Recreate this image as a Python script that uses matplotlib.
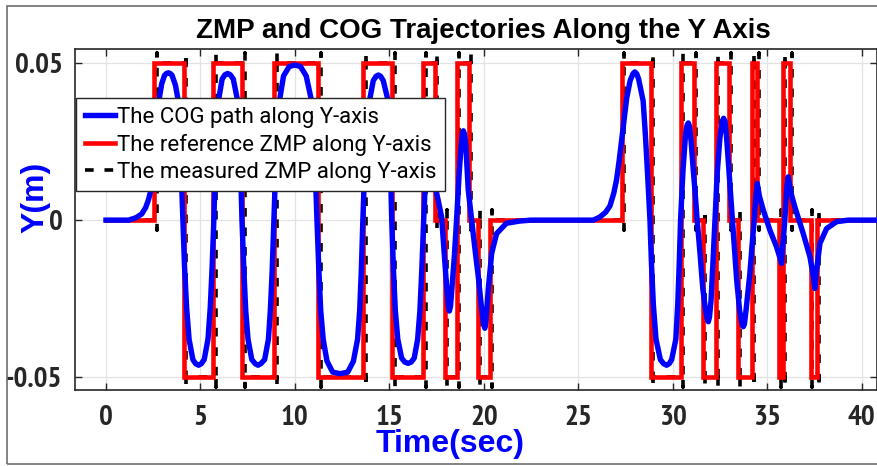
import matplotlib
matplotlib.use('Agg')
import matplotlib.pyplot as plt
from matplotlib.patches import Rectangle
from matplotlib import font_manager

_avail = {f.name for f in font_manager.fontManager.ttflist}
def pick(names):
    for n in names:
        if n in _avail:
            return n
    return 'DejaVu Sans'

NARROW = pick(['Liberation Sans Narrow', 'Arial Narrow', 'PT Sans Narrow', 'Roboto Condensed',
               'Archivo Narrow', 'Fira Sans Condensed', 'Barlow Condensed', 'DejaVu Sans'])
SANS = pick(['Liberation Sans', 'Arimo', 'Arial', 'DejaVu Sans'])
LEGF = pick(['Roboto', 'Liberation Sans', 'DejaVu Sans'])

# ---------------- data ----------------
title = 'ZMP and COG Trajectories Along the Y Axis'
xlabel = 'Time(sec)'
ylabel = 'Y(m)'
labels = ['The COG path along Y-axis', 'The reference ZMP along Y-axis',
          'The measured ZMP along Y-axis']
xticks = [0, 5, 10, 15, 20, 25, 30, 35, 40]
yticks = [-0.05, 0, 0.05]
yticklabels = ['-0.05', '0', '0.05']

# reference ZMP: switch times and level held from that time
ref_t = [0.0, 2.56, 4.14, 5.68, 7.22, 8.91, 11.24, 13.62, 15.16, 16.8, 17.42, 17.95,
         18.56, 19.23, 19.71, 20.33, 27.3, 28.83, 30.42, 31.15, 31.59, 32.29, 33.0,
         33.47, 34.2, 34.49, 35.64, 35.86, 36.2, 37.3, 37.62]
ref_y = [0, .05, -.05, .05, -.05, .05, -.05, .05, -.05, .05, 0, -.05,
         .05, 0, -.05, 0, .05, -.05, .05, 0, -.05, .05, 0,
         -.05, .05, 0, -.05, .05, 0, -.05, 0]
t_end = 41.0

# measured ZMP: switch times (slightly delayed) and overshoot at each switch
meas_t = [0.0, 2.68, 4.26, 5.8, 7.34, 9.03, 11.36, 13.74, 15.28, 16.92, 17.52, 18.06,
          18.68, 19.33, 19.81, 20.45, 27.42, 28.95, 30.54, 31.26, 31.7, 32.41, 33.1,
          33.58, 34.32, 34.58, 35.74, 35.97, 36.3, 37.4, 37.73]
meas_y = ref_y
meas_overshoot = 0.0033

# COG path
cog_t = [0.0, 1.2, 1.6, 1.9, 2.1, 2.25, 2.38, 2.5, 2.62, 2.72, 2.8, 2.95, 3.1, 3.2, 3.3, 3.4, 3.5, 3.68, 3.83, 3.92, 4.0, 4.07,
         4.16, 4.27, 4.4, 4.6, 4.75, 4.9, 5.05, 5.2, 5.4, 5.52, 5.62, 5.71,
         5.8, 5.9, 5.98, 6.15, 6.3, 6.44, 6.58, 6.74, 6.94, 7.03, 7.12, 7.2,
         7.3, 7.4, 7.52, 7.72, 7.9, 8.05, 8.2, 8.4, 8.6, 8.7, 8.8, 8.89,
         8.98, 9.07, 9.21, 9.4, 9.7, 10.0, 10.3, 10.6, 10.85, 10.98, 11.08, 11.17,
         11.27, 11.37, 11.5, 11.7, 12.0, 12.4, 12.8, 13.1, 13.32, 13.43, 13.52, 13.6,
         13.68, 13.8, 13.98, 14.15, 14.3, 14.42, 14.54, 14.68, 14.9, 14.99, 15.06, 15.13,
         15.22, 15.32, 15.45, 15.65, 15.82, 16.0, 16.16, 16.32, 16.5, 16.62, 16.72, 16.82,
         16.9, 17.0, 17.1, 17.2, 17.3, 17.42, 17.6, 17.77, 17.9, 18.02, 18.12, 18.18, 18.24, 18.3, 18.45, 18.56,
         18.7, 18.8, 18.86, 18.92, 18.98, 19.05, 19.18, 19.36, 19.55, 19.71, 19.9, 20.0, 20.06, 20.12, 20.24, 20.42, 20.68,
         21.2, 21.9, 22.5,
         25.8, 26.15, 26.45, 26.68, 26.88, 27.03, 27.17, 27.3, 27.45, 27.57, 27.75, 27.9, 28.0, 28.1, 28.2, 28.44, 28.56, 28.68, 28.8,
         28.88, 28.98, 29.12, 29.35, 29.52, 29.68, 29.82, 29.95, 30.17, 30.27, 30.35, 30.42,
         30.55, 30.68, 30.76, 30.83, 30.9, 30.98, 31.08, 31.18, 31.3, 31.45, 31.6, 31.75, 31.84, 31.89, 31.95, 32.03, 32.14, 32.24,
         32.36, 32.5, 32.62, 32.7, 32.77, 32.85, 32.98, 33.12, 33.25, 33.39, 33.55, 33.68, 33.74, 33.8, 33.9, 34.09, 34.22, 34.32,
         34.41, 34.48, 34.6, 34.8, 35.15, 35.5, 35.7, 35.77, 35.86, 35.94, 36.05, 36.12, 36.25, 36.47,
         36.91, 37.27, 37.45, 37.53, 37.62, 37.8, 38.15, 38.68, 39.3, 41.0]
cog_y = [0.0, 0.0, 0.0008, 0.002, 0.004, 0.0065, 0.0096, 0.016, 0.024, 0.032, 0.038, 0.0435, 0.0462, 0.0468, 0.047, 0.0468, 0.0462, 0.043, 0.038, 0.026, 0.012, 0.0,
         -0.015, -0.028, -0.038, -0.0445, -0.0458, -0.0463, -0.0458, -0.0445, -0.038, -0.028, -0.015, 0.0,
         0.018, 0.031, 0.039, 0.045, 0.0464, 0.0468, 0.0464, 0.045, 0.039, 0.031, 0.018, 0.0,
         -0.016, -0.029, -0.038, -0.0445, -0.0458, -0.0463, -0.0458, -0.0445, -0.038, -0.029, -0.016, 0.0,
         0.016, 0.029, 0.039, 0.046, 0.049, 0.0495, 0.049, 0.046, 0.039, 0.029, 0.016, 0.0,
         -0.016, -0.029, -0.038, -0.045, -0.0485, -0.049, -0.0485, -0.045, -0.038, -0.029, -0.016, 0.0,
         0.014, 0.027, 0.039, 0.0445, 0.0459, 0.0463, 0.0459, 0.0445, 0.039, 0.03, 0.017, 0.0,
         -0.016, -0.029, -0.038, -0.044, -0.0453, -0.0457, -0.0453, -0.044, -0.038, -0.029, -0.016, 0.0,
         0.011, 0.022, 0.029, 0.032, 0.025, 0.011, 0.006, 0.001, -0.01, -0.02, -0.0272, -0.029, -0.0275, -0.023, -0.011, 0.0,
         0.015, 0.0235, 0.0275, 0.0285, 0.0275, 0.024, 0.0096, 0.0, -0.01, -0.018, -0.029, -0.0335, -0.0345, -0.032, -0.022, -0.0106, -0.0043,
         -0.001, -0.0003, 0.0,
         0.0, 0.001, 0.0025, 0.0045, 0.0085, 0.0128, 0.019, 0.0255, 0.033, 0.039, 0.0445, 0.0467, 0.0473, 0.0467, 0.045, 0.038, 0.027, 0.014, 0.0,
         -0.014, -0.027, -0.038, -0.0445, -0.0458, -0.0463, -0.0458, -0.0445, -0.038, -0.027, -0.014, 0.0,
         0.016, 0.027, 0.0302, 0.031, 0.0298, 0.025, 0.017, 0.0096, 0.0, -0.0106, -0.022, -0.029, -0.0318, -0.0324, -0.031, -0.026, -0.013, 0.0,
         0.015, 0.026, 0.0315, 0.0325, 0.0315, 0.027, 0.016, 0.0042, -0.007, -0.019, -0.029, -0.0334, -0.034, -0.0332, -0.028, -0.017, -0.007, 0.0,
         0.008, 0.0117, 0.0075, 0.0032, -0.0032, -0.0085, -0.0125, -0.0138, -0.006, 0.0, 0.011, 0.0138, 0.009, 0.0042,
         -0.0042, -0.0117, -0.018, -0.0218, -0.016, -0.0074, -0.0027, -0.0005, 0.0, 0.0]


def step_path(ts, ys, end):
    xs, vs = [], []
    for i, (t, v) in enumerate(zip(ts, ys)):
        t2 = ts[i + 1] if i + 1 < len(ts) else end
        xs += [t, t2]
        vs += [v, v]
    return xs, vs


def measured_path(ts, ys, end, ov):
    xs, vs = [ts[0]], [ys[0]]
    for i in range(1, len(ts)):
        prev, new = ys[i - 1], ys[i]
        s = 1 if new > prev else -1
        t = ts[i]
        xs += [t, t, t, t]
        vs += [prev, prev - s * ov, new + s * ov, new]
    xs.append(end)
    vs.append(ys[-1])
    return xs, vs


# ---------------- figure ----------------
W, H = 878, 466
fig = plt.figure(figsize=(W / 100, H / 100), dpi=100)
ax = fig.add_axes([75 / W, 1 - 390 / H, (877 - 75) / W, (390 - 49) / H])

mx, mv = measured_path(meas_t, meas_y, t_end, meas_overshoot)
rx, rv = step_path(ref_t, ref_y, t_end)

h_meas, = ax.plot(mx, mv, color='black', lw=2.6, ls=(0, (2.4, 3.0)), zorder=2,
                  solid_capstyle='butt', dash_capstyle='butt')
h_ref, = ax.plot(rx, rv, color=(1, 0, 0), lw=3.3, zorder=3, solid_joinstyle='miter')
h_cog, = ax.plot(cog_t, cog_y, color=(0, 0, 1), lw=3.9, zorder=4, solid_joinstyle='round')

ax.set_xlim(-1.64, 40.82)
ax.set_ylim(-0.0542, 0.0546)
ax.set_xticks(xticks)
ax.set_xticklabels([str(v) for v in xticks])
ax.set_yticks(yticks)
ax.set_yticklabels(yticklabels)
ax.grid(True, color='#e3e3e3', lw=0.9)
ax.set_axisbelow(True)
ax.tick_params(direction='in', length=5, width=1, top=True, right=True,
               colors='#262626', labelcolor='#262626')
ax.tick_params(axis='x', pad=11)
ax.tick_params(axis='y', pad=9)
for lab in ax.get_xticklabels() + ax.get_yticklabels():
    lab.set_fontfamily(NARROW)
    lab.set_fontweight('bold')
    lab.set_fontsize(21)
for sp in ax.spines.values():
    sp.set_color('#262626')
    sp.set_linewidth(1.2)

leg = ax.legend([h_cog, h_ref, h_meas], labels, loc='upper left',
                bbox_to_anchor=(0.001, 0.3, (445 - 76) / 802, (390 - 97.7) / 341 - 0.3),
                mode='expand', borderaxespad=0,
                prop={'family': LEGF, 'size': 16}, handlelength=1.37,
                handletextpad=0.1, labelspacing=0.27, borderpad=0.4,
                fancybox=False, framealpha=1, edgecolor='#262626')
leg.get_frame().set_linewidth(1.0)
leg.set_zorder(10)

fig.text(483 / W, 1 - 31 / H, title, ha='center', va='center', fontsize=20,
         fontweight='bold', family=SANS, color='black')
fig.text(450 / W, 1 - 444 / H, xlabel, ha='center', va='center', fontsize=23,
         fontweight='bold', family=SANS, color=(0, 0, 1))
fig.text(35 / W, 1 - 197.5 / H, ylabel, ha='center', va='center', fontsize=23,
         fontweight='bold', family=SANS, color=(0, 0, 1), rotation=90)

fig.patches.append(Rectangle((7 / W, 2 / H), 1.2, (464 - 6) / H, transform=fig.transFigure,
                             fill=False, edgecolor='#6e6e6e', lw=1.2))

fig.savefig('out.png', dpi=100)
